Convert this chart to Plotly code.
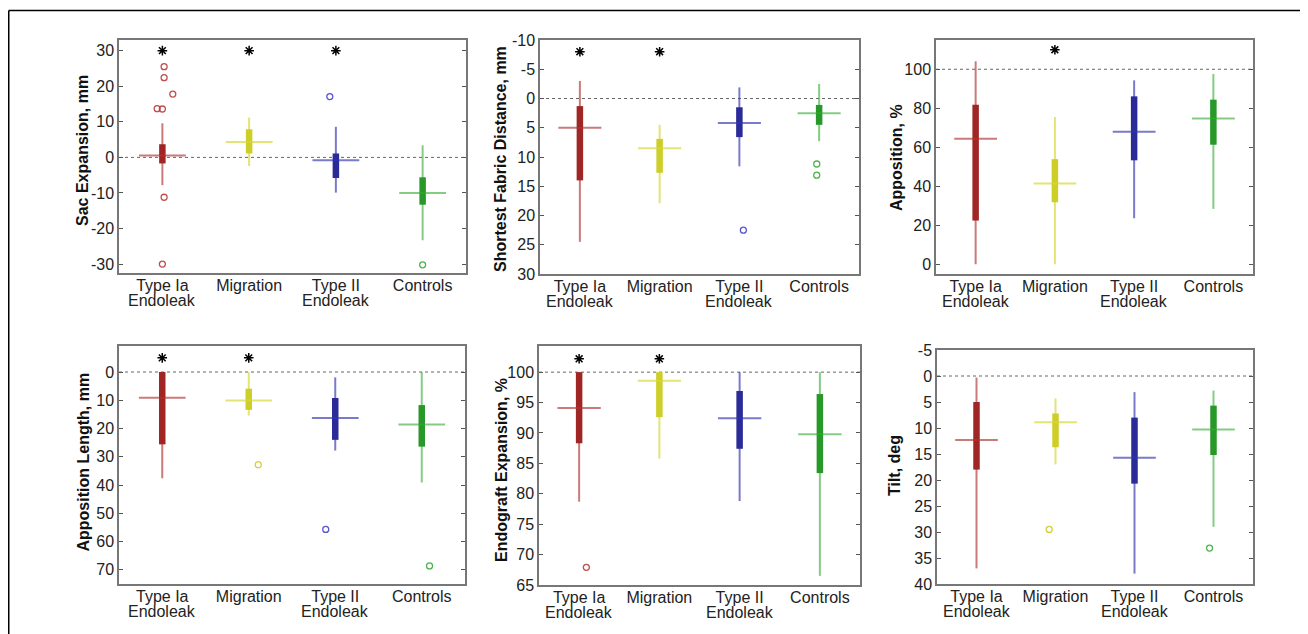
import plotly.graph_objects as go

# Page has an 8px body margin, so the figure is sized to fit the window after it.
OFF = 8
W, H = 1308 - OFF, 634 - OFF

CATEGORIES = ["Type Ia", "Migration", "Type II", "Controls"]
CATEGORIES_LINE2 = ["Endoleak", "", "Endoleak", ""]

# ---- Panel 1: Sac Expansion, mm ----
sac_low = [-7.8, -2.4, -9.9, -23.3]
sac_q1 = [-1.7, 1.1, -5.8, -13.3]
sac_med = [0.5, 4.3, -0.8, -10.0]
sac_q3 = [3.7, 7.9, 1.1, -5.6]
sac_high = [9.6, 11.2, 8.6, 3.4]
sac_out = [[25.5, 22.4, 17.8, 13.7, 13.6, -11.2, -30.0], [], [17.1], [-30.2]]
sac_out_dx = [[0.02, 0.02, 0.12, -0.06, 0.0, 0.02, 0.0], [], [-0.07], [0.0]]
sac_star = [30, 30, 30, None]

# ---- Panel 2: Shortest Fabric Distance, mm ----
sfd_low = [24.5, 17.9, 11.6, 7.3]
sfd_q1 = [14.0, 12.7, 6.6, 4.5]
sfd_med = [5.0, 8.5, 4.2, 2.5]
sfd_q3 = [1.3, 6.9, 1.5, 1.1]
sfd_high = [-3.0, 4.5, -1.9, -2.5]
sfd_out = [[], [], [22.5], [11.2, 13.1]]
sfd_out_dx = [[], [], [0.05], [-0.03, -0.03]]
sfd_star = [-8, -8, None, None]

# ---- Panel 3: Apposition, % ----
app_low = [0.0, 0.0, 23.6, 28.4]
app_q1 = [22.4, 31.8, 53.3, 61.3]
app_med = [64.4, 41.4, 68.0, 74.7]
app_q3 = [81.8, 53.9, 86.1, 84.4]
app_high = [104.1, 75.5, 94.3, 97.6]
app_out = [[], [], [], []]
app_out_dx = [[], [], [], []]
app_star = [None, 110, None, None]

# ---- Panel 4: Apposition Length, mm ----
apl_low = [37.6, 15.4, 27.8, 39.1]
apl_q1 = [25.6, 13.4, 24.0, 26.4]
apl_med = [9.1, 10.1, 16.3, 18.6]
apl_q3 = [0.0, 5.9, 9.2, 11.7]
apl_high = [0.0, 0.0, 1.9, 0.0]
apl_out = [[], [32.8], [55.7], [68.6]]
apl_out_dx = [[], [0.11], [-0.11], [0.09]]
apl_star = [-5, -5, None, None]

# ---- Panel 5: Endograft Expansion, % ----
end_low = [78.7, 85.8, 78.8, 66.5]
end_q1 = [88.3, 92.6, 87.4, 83.4]
end_med = [94.1, 98.6, 92.4, 89.8]
end_q3 = [100.0, 100.0, 96.9, 96.4]
end_high = [100.0, 100.0, 100.0, 100.0]
end_out = [[67.9], [], [], []]
end_out_dx = [[0.09], [], [], []]
end_star = [102.2, 102.2, None, None]

# ---- Panel 6: Tilt, deg ----
tilt_low = [37.0, 17.0, 38.0, 29.0]
tilt_q1 = [18.0, 13.7, 20.7, 15.2]
tilt_med = [12.3, 8.9, 15.7, 10.3]
tilt_q3 = [5.0, 7.2, 8.0, 5.7]
tilt_high = [0.3, 4.3, 3.1, 2.8]
tilt_out = [[], [29.5], [], [33.1]]
tilt_out_dx = [[], [-0.08], [], [-0.05]]
tilt_star = [None, None, None, None]

# ---- styling ----
BOX_COLORS = ["rgb(160,38,38)", "rgb(206,206,40)", "rgb(42,42,152)", "rgb(40,152,40)"]
LINE_COLORS = ["rgba(175,50,50,0.65)", "rgba(215,215,60,0.7)", "rgba(50,50,175,0.65)", "rgba(50,170,50,0.6)"]
OUT_COLORS = ["rgba(185,60,60,0.9)", "rgba(205,205,40,0.9)", "rgba(70,70,200,0.9)", "rgba(60,170,60,0.9)"]
MED_HALF = 0.27


def fx(px):
    return (px - OFF) / W


def fy(py):
    return 1 - (py - OFF) / H


panels = [
    dict(low=sac_low, q1=sac_q1, med=sac_med, q3=sac_q3, high=sac_high, out=sac_out, dx=sac_out_dx,
         star=sac_star, title="Sac Expansion, mm", rng=[-32.5, 33], ticks=list(range(-30, 31, 10)),
         ref=0, dom=(119, 466, 40, 273), title_pos=(82, 151)),
    dict(low=sfd_low, q1=sfd_q1, med=sfd_med, q3=sfd_q3, high=sfd_high, out=sfd_out, dx=sfd_out_dx,
         star=sfd_star, title="Shortest Fabric Distance, mm", rng=[30, -10], ticks=list(range(-10, 31, 5)),
         ref=0, dom=(540, 859, 40, 274), title_pos=(501, 159)),
    dict(low=app_low, q1=app_q1, med=app_med, q3=app_q3, high=app_high, out=app_out, dx=app_out_dx,
         star=app_star, title="Apposition, %", rng=[-5, 115], ticks=list(range(0, 101, 20)),
         ref=100, dom=(936, 1253, 40, 274), title_pos=(896, 157)),
    dict(low=apl_low, q1=apl_q1, med=apl_med, q3=apl_q3, high=apl_high, out=apl_out, dx=apl_out_dx,
         star=apl_star, title="Apposition Length, mm", rng=[75, -9.2], ticks=list(range(0, 71, 10)),
         ref=0, dom=(119, 465, 346, 584), title_pos=(82.5, 462)),
    dict(low=end_low, q1=end_q1, med=end_med, q3=end_q3, high=end_high, out=end_out, dx=end_out_dx,
         star=end_star, title="Endograft Expansion, %", rng=[65, 104.3], ticks=list(range(65, 101, 5)),
         ref=100, dom=(539, 860, 346, 585), title_pos=(501, 470)),
    dict(low=tilt_low, q1=tilt_q1, med=tilt_med, q3=tilt_q3, high=tilt_high, out=tilt_out, dx=tilt_out_dx,
         star=tilt_star, title="Tilt, deg", rng=[40, -5], ticks=list(range(-5, 41, 5)),
         ref=0, dom=(937, 1253, 350, 584), title_pos=(894, 466)),
]

FONT = "Liberation Sans, Arial, sans-serif"
TICK_SIZE = 16
fig = go.Figure()
layout = dict(width=W, height=H, margin=dict(l=0, r=0, t=0, b=0), showlegend=False,
              plot_bgcolor="white", paper_bgcolor="white", font=dict(family=FONT, size=TICK_SIZE, color="#222"))
shapes = []
annotations = []

for k, p in enumerate(panels):
    n = k + 1
    xa = "x" if n == 1 else f"x{n}"
    ya = "y" if n == 1 else f"y{n}"
    xs = list(range(1, len(CATEGORIES) + 1))
    fig.add_trace(go.Scatter(x=[0.5, 4.5], y=[p["ref"], p["ref"]], mode="lines",
                             line=dict(color="#666", width=1, dash="dot"),
                             xaxis=xa, yaxis=ya, hoverinfo="skip"))
    for i, x in enumerate(xs):
        fig.add_trace(go.Scatter(x=[x, x], y=[p["low"][i], p["high"][i]], mode="lines",
                                 line=dict(color=LINE_COLORS[i], width=2), xaxis=xa, yaxis=ya))
        fig.add_trace(go.Scatter(x=[x, x], y=[p["q1"][i], p["q3"][i]], mode="lines",
                                 line=dict(color=BOX_COLORS[i], width=6.5), xaxis=xa, yaxis=ya))
        fig.add_trace(go.Scatter(x=[x - MED_HALF, x + MED_HALF], y=[p["med"][i], p["med"][i]], mode="lines",
                                 line=dict(color=LINE_COLORS[i], width=2), xaxis=xa, yaxis=ya))
        if p["out"][i]:
            fig.add_trace(go.Scatter(x=[x + d for d in p["dx"][i]], y=p["out"][i], mode="markers",
                                     marker=dict(symbol="circle-open", size=6, color=OUT_COLORS[i],
                                                 line=dict(width=1.3, color=OUT_COLORS[i])),
                                     xaxis=xa, yaxis=ya))
        if p["star"][i] is not None:
            fig.add_trace(go.Scatter(x=[x], y=[p["star"][i]], mode="markers",
                                     marker=dict(symbol="asterisk-open", size=8, color="black",
                                                 line=dict(width=1.5, color="black")),
                                     xaxis=xa, yaxis=ya))
    x0, x1, y0, y1 = p["dom"]
    for i, x in enumerate(xs):
        if CATEGORIES_LINE2[i]:
            annotations.append(dict(text=CATEGORIES_LINE2[i], x=x, xref=xa, y=fy(y1 + 27), yref="paper",
                                    xanchor="center", yanchor="middle", showarrow=False,
                                    font=dict(size=TICK_SIZE, color="#222", family=FONT)))
    tx, ty = p["title_pos"]
    annotations.append(dict(text=f"<b>{p['title']}</b>", x=fx(tx), y=fy(ty), xref="paper", yref="paper",
                            textangle=-90, xanchor="center", yanchor="middle", showarrow=False,
                            font=dict(size=16, color="#111", family=FONT)))
    layout[f"xaxis{n if n > 1 else ''}"] = dict(
        domain=[fx(x0), fx(x1)], range=[0.5, 4.5], anchor=ya, tickvals=xs, ticktext=CATEGORIES,
        ticks="", showline=True, mirror=True, linecolor="#777", linewidth=1.5, showgrid=False,
        zeroline=False, tickfont=dict(size=TICK_SIZE, color="#222", family=FONT), ticklabelstandoff=-3,
        fixedrange=True)
    layout[f"yaxis{n if n > 1 else ''}"] = dict(
        domain=[fy(y1), fy(y0)], range=p["rng"], anchor=xa, tickvals=p["ticks"],
        ticktext=[str(t) for t in p["ticks"]], ticks="inside", ticklen=4, tickcolor="#555",
        showline=True, mirror="ticks", linecolor="#777", linewidth=1.5, showgrid=False,
        zeroline=False, tickfont=dict(size=TICK_SIZE, color="#222", family=FONT),
        automargin=False, fixedrange=True)

shapes.append(dict(type="line", xref="paper", yref="paper", x0=fx(8.75), x1=1.0, y0=fy(10.5), y1=fy(10.5),
                   line=dict(color="black", width=1.5)))
shapes.append(dict(type="line", xref="paper", yref="paper", x0=fx(8.75), x1=fx(8.75), y0=0, y1=fy(10.5),
                   line=dict(color="black", width=1.5)))
layout["shapes"] = shapes
layout["annotations"] = annotations
fig.update_layout(**layout)
fig.write_html("out.html")
